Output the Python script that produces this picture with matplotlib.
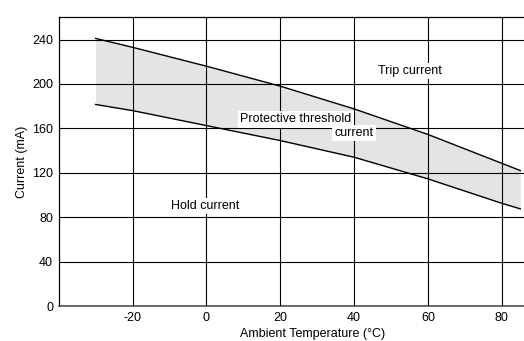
import matplotlib
matplotlib.use("Agg")
import matplotlib.pyplot as plt

plt.rcParams.update({
    "font.family": ["Liberation Sans", "DejaVu Sans"],
    "font.size": 9,
    "axes.unicode_minus": False,
})

# data
temp = [-30, -20, 0, 20, 40, 60, 80, 85]
trip = [241, 233, 216, 198, 177.5, 154.5, 128.5, 122]
hold = [181.5, 176, 162.5, 149, 134, 114.5, 92.5, 87.5]
xticks = [-20, 0, 20, 40, 60, 80]
yticks = [0, 40, 80, 120, 160, 200, 240]

fig = plt.figure(figsize=(5.24, 3.41), dpi=100)
ax = fig.add_axes([0.112, 0.1026, 0.888, 0.8466])

ax.fill_between(temp, hold, trip, color="#e4e4e4", lw=0, zorder=1)
ax.plot(temp, trip, color="black", lw=1.0, zorder=3)
ax.plot(temp, hold, color="black", lw=1.0, zorder=3)

ax.set_xlim(-40, 86)
ax.set_ylim(0, 260)
ax.set_xticks(xticks)
ax.set_yticks(yticks)
ax.grid(True, color="black", lw=0.8, zorder=2)
ax.set_axisbelow(False)
ax.tick_params(length=0, pad=4, labelsize=9)
ax.spines["right"].set_visible(False)
for s in ["left", "top"]:
    ax.spines[s].set_linewidth(0.9)
ax.spines["bottom"].set_linewidth(1.2)
ax.spines["bottom"].set_color("#555555")

ax.set_xlabel("Ambient Temperature (°C)", fontsize=9, va="center")
ax.xaxis.set_label_coords(0.5455, -0.096)
ax.set_ylabel("Current (mA)", fontsize=9, va="center")
ax.yaxis.set_label_coords(-0.079, 0.5)

box = dict(facecolor="white", edgecolor="none", pad=1.5)
ax.text(55, 211.8, "Trip current", ha="center", va="center", fontsize=9,
        bbox=box, zorder=4)
ax.text(24.2, 168, "Protective threshold", ha="center", va="center", fontsize=9,
        bbox=box, zorder=4)
ax.text(40, 155.5, "current", ha="center", va="center", fontsize=9,
        bbox=box, zorder=4)
ax.text(-0.3, 90, "Hold current", ha="center", va="center", fontsize=9,
        bbox=box, zorder=4)

fig.savefig("out.png", dpi=100, facecolor="white")
